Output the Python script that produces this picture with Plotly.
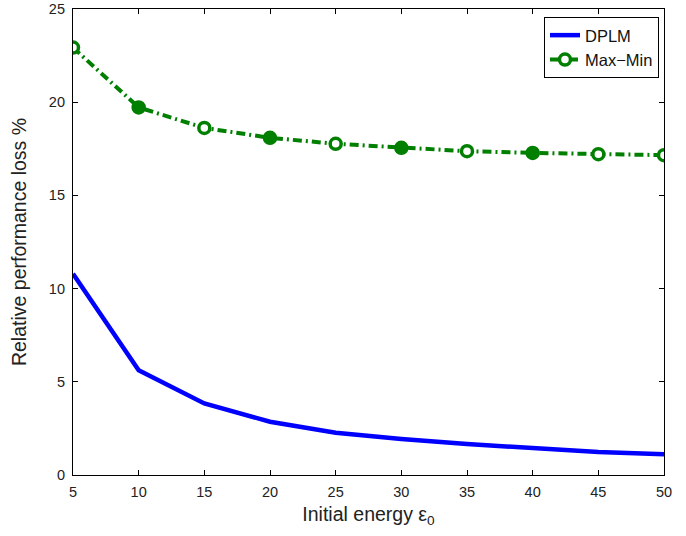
import plotly.graph_objects as go

x_energy = [5, 10, 15, 20, 25, 30, 35, 40, 45, 50]
dplm = [10.8, 5.62, 3.84, 2.86, 2.27, 1.93, 1.66, 1.45, 1.23, 1.11]
maxmin = [22.93, 19.72, 18.62, 18.09, 17.77, 17.55, 17.37, 17.28, 17.21, 17.16]
filled_idx = [1, 3, 5, 7]

x_ticks = [5, 10, 15, 20, 25, 30, 35, 40, 45, 50]
y_ticks = [0, 5, 10, 15, 20, 25]

FONT = "Liberation Sans, Arial, sans-serif"
GREEN = "#007f00"

fig = go.Figure()
fig.add_trace(go.Scatter(
    x=x_energy, y=dplm, mode="lines", name="DPLM",
    line=dict(color="#0000ff", width=4.5),
))
fig.add_trace(go.Scatter(
    x=x_energy, y=maxmin, mode="lines+markers", name="Max\u2212Min",
    line=dict(color=GREEN, width=4, dash="9px,4px,2px,4px"),
    marker=dict(symbol="circle", size=11, color="white",
                line=dict(color=GREEN, width=3.5)),
))
fig.add_trace(go.Scatter(
    x=[x_energy[i] for i in filled_idx], y=[maxmin[i] for i in filled_idx],
    mode="markers", showlegend=False, hoverinfo="skip",
    marker=dict(symbol="circle", size=13, color=GREEN),
))

axis_common = dict(
    showgrid=False, zeroline=False, showline=True, linecolor="black",
    linewidth=1.2, mirror="ticks", ticks="inside", ticklen=5,
    tickcolor="black", tickwidth=1, automargin=False,
    ticklabeloverflow="allow",
    tickfont=dict(family=FONT, size=14.5, color="#222"),
)

fig.update_layout(
    width=686, height=536,
    margin=dict(l=73, r=22, t=9, b=61),
    paper_bgcolor="white", plot_bgcolor="white",
    font=dict(family=FONT, color="#222"),
    xaxis=dict(range=[5, 50], tickvals=x_ticks, ticklabelstandoff=3,
               title=dict(text="Initial energy \u03b5<sub>0</sub>",
                          font=dict(family=FONT, size=19.5), standoff=8),
               **axis_common),
    yaxis=dict(range=[0, 25], tickvals=y_ticks, ticklabelstandoff=4,
               title=dict(text="Relative performance loss %",
                          font=dict(family=FONT, size=19.5), standoff=17),
               **axis_common),
    legend=dict(x=0.9915, y=0.983, xanchor="right", yanchor="top",
                bgcolor="white", bordercolor="black", borderwidth=1,
                font=dict(family=FONT, size=16.5, color="#111"),
                tracegroupgap=0, itemwidth=30),
    showlegend=True,
)

fig.write_html("out.html",
               config={"displayModeBar": False},
               post_script="document.body.style.margin='0';")
